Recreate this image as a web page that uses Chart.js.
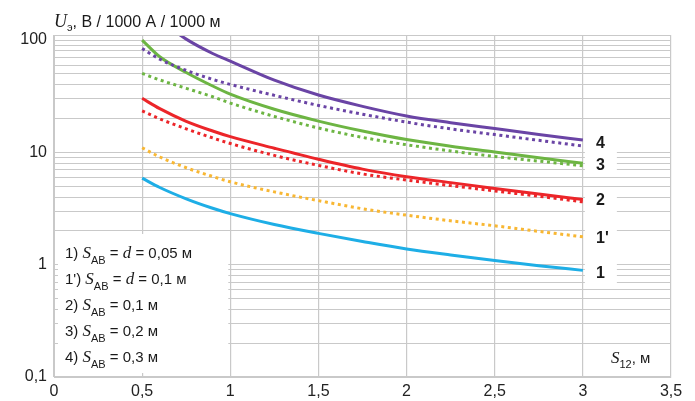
<!DOCTYPE html>
<html><head><meta charset="utf-8">
<script src="https://cdn.jsdelivr.net/npm/chart.js@4/dist/chart.umd.min.js"></script>
<style>html,body{margin:0;padding:0;background:#fff}#wrap{width:695px;height:401px}</style>
</head><body><div id="wrap"><canvas id="c" width="695" height="401"></canvas></div>
<script>
const sValues = [0.5, 0.6, 0.75, 0.9, 1, 1.25, 1.5, 1.75, 2, 2.25, 2.5, 2.75, 3];
const u1  = [5.9, 4.87, 3.86, 3.18, 2.85, 2.28, 1.9, 1.61, 1.38, 1.22, 1.09, 0.98, 0.89];
const u1p = [11.0, 9.1, 7.3, 6.1, 5.47, 4.45, 3.72, 3.15, 2.76, 2.46, 2.22, 1.98, 1.77];
const u2  = [30.3, 24.5, 18.9, 15.5, 13.8, 10.9, 8.7, 7.1, 6.07, 5.38, 4.78, 4.26, 3.81];
const u2d = [23.4, 19.9, 16.2, 13.45, 12.0, 9.4, 7.66, 6.43, 5.67, 5.06, 4.54, 4.07, 3.63];
const u3  = [100, 71, 51.5, 39, 33, 24.2, 19.0, 15.5, 13.0, 11.35, 10.1, 8.95, 8.0];
const u3d = [50.5, 44.2, 37.2, 31.3, 27.5, 20.9, 16.5, 13.6, 11.7, 10.3, 9.2, 8.36, 7.6];
const u4  = [null, 150, 102, 76, 65, 44, 32.4, 25.7, 21.1, 18.4, 16.3, 14.45, 12.9];
const u4d = [84, 67.6, 53.7, 44.7, 40.3, 32.2, 26.2, 21.9, 18.6, 16.2, 14.4, 12.8, 11.4];
const yTickValues = [0.1,0.2,0.3,0.4,0.5,0.6,0.7,0.8,0.9,1,2,3,4,5,6,7,8,9,10,20,30,40,50,60,70,80,90,100];
const yLabelMap = {0.1:'0,1', 1:'1', 10:'10', 100:'100'};
const curveLabels = [['4',12.9],['3',8.0],['2',3.81],["1'",1.77],['1',0.89]];
const legendRows = [
  ['1) ', 'S', 'AB', ' = ', 'd', ' = 0,05 м'],
  ["1') ", 'S', 'AB', ' = ', 'd', ' = 0,1 м'],
  ['2) ', 'S', 'AB', ' = 0,1 м'],
  ['3) ', 'S', 'AB', ' = 0,2 м'],
  ['4) ', 'S', 'AB', ' = 0,3 м']
];

const SANS = '"Liberation Sans", Arial, sans-serif';
const SERIF = '"Liberation Serif", "Times New Roman", serif';
Chart.defaults.font.family = SANS;
Chart.defaults.color = '#222';

function pts(arr){ return sValues.map((s,i)=>({x:s,y:arr[i]})); }
function ds(arr,color,dotted){
  return {data:pts(arr), borderColor:color, borderWidth:3, pointRadius:0,
    cubicInterpolationMode:'monotone', spanGaps:true, fill:false,
    borderDash: dotted ? [3,3.6] : [], borderCapStyle:'butt'};
}
const PURPLE='#6a44a5', GREEN='#6db543', RED='#ec2529', ORANGE='#f8b733', BLUE='#1eaee6';
const GRID='#c9c9c9';

function runs(ctx, x, y, items){
  for (const it of items){
    ctx.font = it.f; ctx.fillText(it.t, x, y + (it.dy||0));
    x += ctx.measureText(it.t).width + (it.sp||0);
  }
}

const labY = {'4':144,'3':166,'2':201,"1'":238.5,'1':273.5};
const deco = {
  id:'deco',
  beforeDatasetsDraw(chart){
    const ctx = chart.ctx, xs = chart.scales.x;
    ctx.save();
    ctx.fillStyle = '#fff';
    ctx.fillRect(xs.getPixelForValue(0)+4, 234, xs.getPixelForValue(1)-xs.getPixelForValue(0)-6, 139);
    for (const [t] of curveLabels){
      ctx.fillRect(xs.getPixelForValue(3)+2, labY[t]-11, 32, 22);
    }
    ctx.restore();
  },
  afterDraw(chart){
    const ctx = chart.ctx, a = chart.chartArea;
    ctx.save();
    ctx.strokeStyle = GRID; ctx.lineWidth = 1;
    ctx.strokeRect(a.left+0.5, a.top+0.5, a.right-a.left-1, a.bottom-a.top-1);
    ctx.fillStyle = '#1a1a1a';
    ctx.textBaseline = 'alphabetic'; ctx.textAlign = 'left';
    runs(ctx, 54, 27, [
      {t:'U', f:'italic 18px '+SERIF},
      {t:'э', f:'11px '+SANS, dy:4},
      {t:', В / 1000 А / 1000 м', f:'16px '+SANS}
    ]);
    runs(ctx, 611, 363, [
      {t:'S', f:'italic 17px '+SERIF},
      {t:'12', f:'11px '+SANS, dy:5},
      {t:', м', f:'15px '+SANS}
    ]);
    let by = 258;
    for (const r of legendRows){
      const items = [];
      items.push({t:r[0], f:'15px '+SANS});
      items.push({t:r[1], f:'italic 17px '+SERIF});
      items.push({t:r[2], f:'11px '+SANS, dy:6});
      items.push({t:r[3], f:'15px '+SANS});
      if (r.length > 4){
        items.push({t:r[4], f:'italic 17px '+SERIF});
        items.push({t:r[5], f:'15px '+SANS});
      }
      runs(ctx, 65, by, items);
      by += 26;
    }
    ctx.font = 'bold 16px '+SANS;
    ctx.textBaseline = 'middle';
    for (const [t] of curveLabels){
      ctx.fillText(t, 596, labY[t]);
    }
    ctx.restore();
  }
};

new Chart(document.getElementById('c'), {
  type:'line',
  data:{datasets:[
    ds(u4,PURPLE,false), ds(u4d,PURPLE,true),
    ds(u3,GREEN,false), ds(u3d,GREEN,true),
    ds(u2,RED,false), ds(u2d,RED,true),
    ds(u1p,ORANGE,true), ds(u1,BLUE,false)
  ]},
  options:{
    responsive:false, animation:false, events:[],
    layout:{padding:{left:0, right:24, top:35, bottom:0}},
    plugins:{legend:{display:false}, tooltip:{enabled:false}},
    scales:{
      x:{type:'linear', min:0, max:3.5,
        afterFit(s){ s.height = 24; },
        ticks:{stepSize:0.5, padding:5, font:{size:16}, color:'#222', maxRotation:0,
          callback:v=>String(v).replace('.',',')},
        grid:{color:GRID, lineWidth:1.2, drawTicks:false},
        border:{color:GRID}},
      y:{type:'logarithmic', min:0.1, max:111,
        afterFit(s){ s.width = 54; },
        afterBuildTicks(s){ s.ticks = yTickValues.map(v=>({value:v})); },
        ticks:{autoSkip:false, padding:7, font:{size:16}, color:'#222',
          callback:v=>{ for (const k in yLabelMap){ if (Math.abs(v-Number(k))<1e-9) return yLabelMap[k]; } return ''; }},
        grid:{color:GRID, lineWidth:1, drawTicks:false},
        border:{color:GRID}}
    }
  },
  plugins:[deco]
});
</script></body></html>
